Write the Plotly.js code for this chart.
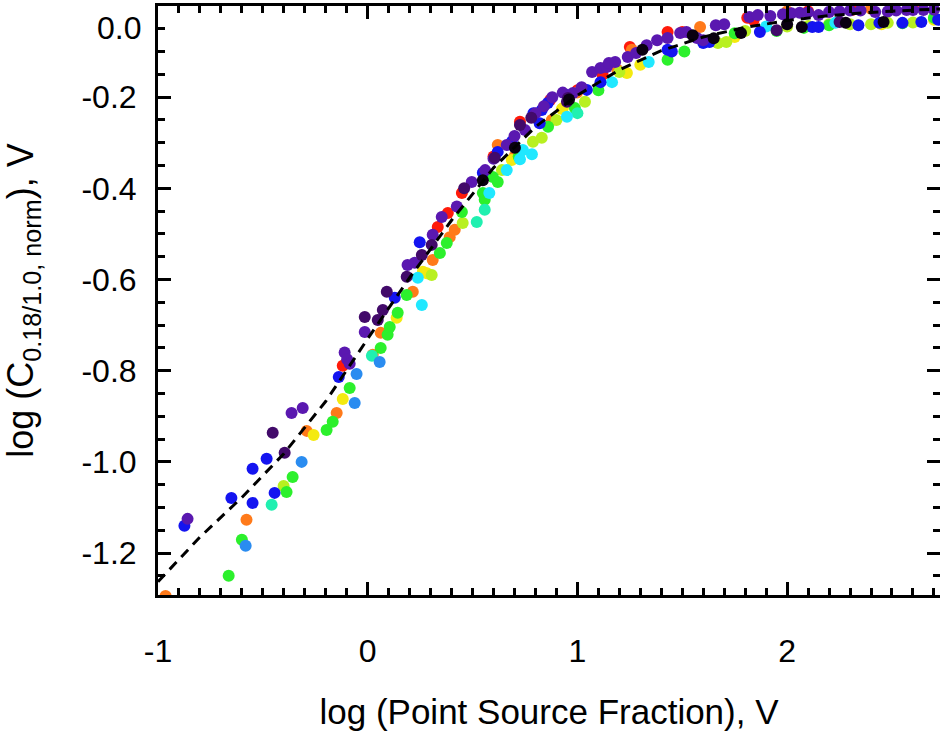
<!DOCTYPE html>
<html>
<head>
<meta charset="utf-8">
<script src="https://cdn.plot.ly/plotly-3.0.1.min.js"></script>
<style>
html,body{margin:0;padding:0;background:#fff;overflow:hidden;}
#chart{width:940px;height:735px;}
</style>
</head>
<body>
<div id="chart"></div>
<script>
// ---- data ----
const redX = [-0.119, 0.334, 0.382, 0.449, 0.60, 0.726, 0.87, 1.00, 1.12, 1.25, 1.43, 1.50, 1.81, 1.84, 2.10, 2.31, 2.60];
const redY = [-0.789, -0.485, -0.454, -0.410, -0.330, -0.254, -0.206, -0.185, -0.151, -0.090, -0.057, -0.057, -0.026, -0.031, -0.012, -0.009, -0.004];

const orangeX = [-0.964, -0.578, -0.291, -0.148, 0.024, 0.062, 0.215, 0.310, 0.391, 0.415, 0.620, 0.700, 0.878, 0.998, 1.190, 1.260, 1.585, 2.000, 2.400];
const orangeY = [-1.294, -1.127, -0.932, -0.893, -0.765, -0.717, -0.627, -0.557, -0.507, -0.491, -0.305, -0.330, -0.250, -0.190, -0.140, -0.096, -0.046, -0.012, -0.006];

const yellowX = [-0.258, -0.119, 0.138, 0.263, 0.282, 0.687, 0.926, 0.931, 1.236, 1.300, 1.750, 2.450, 2.700];
const yellowY = [-0.941, -0.862, -0.684, -0.583, -0.586, -0.338, -0.226, -0.224, -0.147, -0.129, -0.068, -0.040, -0.030];

const limeX = [-0.401, 0.305, 0.453, 0.640, 0.788, 0.830, 0.900, 1.036, 1.200, 1.670, 1.710, 1.800, 2.000, 2.100, 2.200, 2.300, 2.400, 2.480, 2.600];
const limeY = [-1.053, -0.590, -0.476, -0.360, -0.298, -0.289, -0.250, -0.210, -0.145, -0.081, -0.079, -0.055, -0.045, -0.044, -0.040, -0.040, -0.040, -0.037, -0.036];

const greenX = [-0.663, -0.600, -0.387, -0.358, -0.196, -0.167, -0.086, 0.062, 0.095, 0.105, 0.143, 0.186, 0.344, 0.377, 0.449, 0.549, 0.558, 0.597, 0.620, 0.720, 0.860, 0.988, 1.100, 1.430, 1.510, 1.750, 1.950, 2.080, 2.200, 2.550, 2.700];
const greenY = [-1.250, -1.171, -1.066, -1.033, -0.930, -0.912, -0.838, -0.750, -0.721, -0.704, -0.673, -0.634, -0.542, -0.520, -0.452, -0.410, -0.425, -0.375, -0.386, -0.330, -0.265, -0.224, -0.185, -0.118, -0.100, -0.060, -0.055, -0.048, -0.042, -0.038, -0.026];

const aquaX = [-0.458, 0.020, 0.520, 0.558, 1.000];
const aquaY = [-1.094, -0.767, -0.474, -0.447, -0.235];

const cyanX = [0.239, 0.258, 0.580, 0.663, 0.726, 0.740, 0.783, 0.950, 1.165, 1.340, 1.900, 2.230];
const cyanY = [-0.596, -0.656, -0.410, -0.360, -0.336, -0.316, -0.325, -0.243, -0.167, -0.123, -0.045, -0.037];

const skyX = [-0.582, -0.315, -0.062, -0.053, 0.057];
const skyY = [-1.184, -1.000, -0.871, -0.807, -0.781];

const blueX = [-0.874, -0.650, -0.549, -0.549, -0.482, -0.444, -0.138, 0.129, 0.248, 0.549, 0.620, 0.687, 0.790, 0.820, 0.830, 0.859, 0.950, 1.045, 1.110, 1.430, 1.450, 1.600, 1.630, 1.870, 2.120, 2.150, 2.340, 2.440, 2.550, 2.640, 2.720];
const blueY = [-1.140, -1.079, -1.090, -1.015, -0.993, -1.068, -0.814, -0.640, -0.518, -0.366, -0.320, -0.298, -0.235, -0.257, -0.228, -0.213, -0.195, -0.184, -0.167, -0.096, -0.100, -0.081, -0.079, -0.057, -0.046, -0.046, -0.042, -0.037, -0.037, -0.035, -0.030];

const purpleX = [-0.859, -0.363, -0.310, -0.110, -0.098, -0.086, -0.014, 0.190, 0.224, 0.310, 0.353, 0.425, 0.496, 0.560, 0.600, 0.663, 0.700, 0.750, 0.800, 0.840, 0.880, 0.930, 0.979, 1.020, 1.070, 1.110, 1.140, 1.150, 1.180, 1.240, 1.280, 1.330, 1.380, 1.430, 1.490, 1.520, 1.570, 1.600, 1.660, 1.700, 1.820, 1.860, 1.920, 1.980, 2.020, 2.060, 2.100, 2.150, 2.200, 2.250, 2.300, 2.350, 2.420, 2.480, 2.520, 2.570, 2.600, 2.650, 2.700];
const purpleY = [-1.125, -0.893, -0.882, -0.760, -0.775, -0.785, -0.715, -0.568, -0.563, -0.502, -0.463, -0.440, -0.386, -0.360, -0.335, -0.305, -0.285, -0.272, -0.235, -0.220, -0.200, -0.190, -0.191, -0.178, -0.145, -0.136, -0.134, -0.125, -0.123, -0.112, -0.103, -0.086, -0.075, -0.070, -0.059, -0.057, -0.070, -0.075, -0.042, -0.040, -0.024, -0.020, -0.022, -0.018, -0.016, -0.015, -0.014, -0.020, -0.013, -0.012, -0.010, -0.010, -0.013, -0.012, -0.010, -0.009, -0.009, -0.009, -0.008];

const darkX = [-0.453, -0.396, -0.014, 0.048, 0.072, 0.091, 0.186, 0.258, 0.305, 0.460, 0.606, 0.726, 0.780, 0.950, 0.955, 1.950, 2.250];
const darkY = [-0.936, -0.980, -0.682, -0.689, -0.667, -0.627, -0.594, -0.546, -0.524, -0.400, -0.333, -0.261, -0.245, -0.210, -0.202, -0.053, -0.035];

const blackX = [0.549, 0.702, 0.960, 1.310, 1.550, 1.650, 1.780, 2.000, 2.070, 2.280, 2.460];
const blackY = [-0.382, -0.311, -0.205, -0.096, -0.064, -0.071, -0.059, -0.040, -0.046, -0.037, -0.035];

// dashed model curve
const fitX = [-1.0, -0.8, -0.6, -0.4, -0.2, 0.0, 0.2, 0.4, 0.6, 0.8, 1.0, 1.2, 1.4, 1.6, 1.8, 2.0, 2.2, 2.4, 2.6, 2.75];
const fitY = [-1.263, -1.165, -1.078, -0.982, -0.867, -0.730, -0.596, -0.470, -0.355, -0.265, -0.196, -0.140, -0.098, -0.068, -0.047, -0.032, -0.021, -0.014, -0.009, -0.006];

const xTickVals = [-1, 0, 1, 2];
const xTickText = ['-1', '0', '1', '2'];
const yTickVals = [-1.2, -1.0, -0.8, -0.6, -0.4, -0.2];
const yTickText = ['-1.2', '-1.0', '-0.8', '-0.6', '-0.4', '-0.2'];
const yTopLabel = '0.0';

// ---- build traces ----
const series = [
  [redX, redY, '#ff1a0a'],
  [orangeX, orangeY, '#ff7a1a'],
  [yellowX, yellowY, '#f4ea10'],
  [limeX, limeY, '#b8f020'],
  [greenX, greenY, '#2cf02c'],
  [aquaX, aquaY, '#20f0b0'],
  [cyanX, cyanY, '#20e8ff'],
  [skyX, skyY, '#2a8cf0'],
  [blueX, blueY, '#1414f0'],
  [purpleX, purpleY, '#5a18b0'],
  [darkX, darkY, '#420a6a'],
  [blackX, blackY, '#0a0010']
];
const traces = series.map(s => ({
  x: s[0], y: s[1], type: 'scatter', mode: 'markers',
  marker: {color: s[2], size: 12, line: {width: 0}},
  cliponaxis: true, hoverinfo: 'skip'
}));
traces.push({
  x: fitX, y: fitY, type: 'scatter', mode: 'lines',
  line: {color: '#000', width: 3, dash: '10px,7px'}, hoverinfo: 'skip'
});

const font = {family: 'Liberation Sans, Arial, sans-serif', color: '#000'};
const layout = {
  width: 940, height: 735,
  margin: {l: 158, r: 0, t: 6, b: 140},
  paper_bgcolor: '#fff', plot_bgcolor: '#fff',
  showlegend: false,
  font: Object.assign({size: 32}, font),
  xaxis: {
    range: [-1, 2.729], showgrid: false, zeroline: false,
    showline: true, linewidth: 3, linecolor: '#000', mirror: 'allticks',
    ticks: 'inside', ticklen: 13, tickwidth: 3, tickcolor: '#000',
    tickvals: xTickVals, ticktext: xTickText,
    tickfont: Object.assign({size: 32}, font),
    ticklabelstandoff: 26,
    minor: {ticks: 'inside', ticklen: 7, tickwidth: 3, tickcolor: '#000', dtick: 0.1, tick0: 0, showgrid: false},
    title: {text: 'log (Point Source Fraction), V', font: Object.assign({size: 35}, font), standoff: 32}
  },
  yaxis: {
    range: [-1.292, 0.0], showgrid: false, zeroline: false,
    showline: true, linewidth: 3, linecolor: '#000', mirror: 'allticks',
    ticks: 'inside', ticklen: 13, tickwidth: 3, tickcolor: '#000',
    tickvals: yTickVals, ticktext: yTickText,
    tickfont: Object.assign({size: 32}, font),
    ticklabelstandoff: 12,
    minor: {ticks: 'inside', ticklen: 7, tickwidth: 3, tickcolor: '#000', dtick: 0.05, tick0: 0, showgrid: false},
    title: {text: 'log (C<sub>0.18/1.0, norm</sub>), V', font: Object.assign({size: 36}, font), standoff: 37}
  },
  annotations: [{
    x: 0, y: 0, xref: 'paper', yref: 'y', text: yTopLabel, showarrow: false,
    xanchor: 'right', yanchor: 'middle', xshift: -15, yshift: -22,
    font: Object.assign({size: 32}, font)
  }]
};
Plotly.newPlot('chart', traces, layout, {displayModeBar: false, staticPlot: true});
</script>
</body>
</html>
